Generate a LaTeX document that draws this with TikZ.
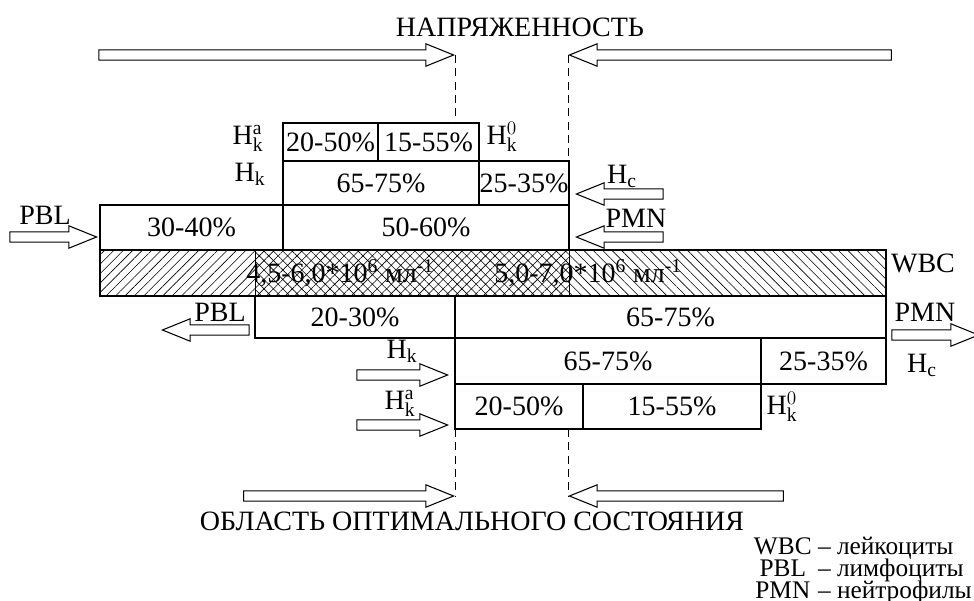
\documentclass[tikz,border=0pt]{standalone}
\usepackage{fontspec}
\setmainfont{Liberation Serif}
\usetikzlibrary{shapes.arrows,patterns.meta}

\tikzset{
  hollow/.style={single arrow, draw, line width=0.8pt, inner xsep=0pt, inner ysep=3.5pt,
    single arrow head extend=4.5pt, single arrow tip angle=44, single arrow head indent=0pt,
    anchor=tip},
  toleft/.style={shape border rotate=180},
  cell/.style={line width=1.1pt},
  lbl/.style={inner sep=0pt},
  guide/.style={line width=0.7pt, dash pattern=on 6pt off 4pt},
}

\begin{document}
\begin{tikzpicture}[x=0.75pt, y=-0.75pt, font=\fontsize{21}{25}\selectfont]
	\useasboundingbox (0,0) rectangle (974,600);
	%titles
	\node (stress) at (520,27) {НАПРЯЖЕННОСТЬ};
	\node (optimum) at (472,521) {ОБЛАСТЬ ОПТИМАЛЬНОГО СОСТОЯНИЯ};
	%WBC bar
	\fill[pattern={Lines[angle=45,distance=5pt,line width=0.45pt]}] (100,250) rectangle (255,296);
	\fill[pattern={Hatch[angle=45,distance=5pt,line width=0.45pt]}] (255,250) rectangle (569,296);
	\fill[pattern={Lines[angle=-45,distance=5pt,line width=0.45pt]}] (569,250) rectangle (886,296);
	\draw[line width=0.6pt] (255,250) -- (255,296) (569,250) -- (569,296);
	\draw[cell] (100,250) rectangle (886,296);
	\node (wbcL) at (340,273) {4,5-6,0*10\textsuperscript{6} мл\textsuperscript{-1}};
	\node (wbcR) at (588,273) {5,0-7,0*10\textsuperscript{6} мл\textsuperscript{-1}};
	\node (wbc) at (923,263) {WBC};
	%boxes
	\foreach \xa/\ya/\xb/\yb/\val [count=\i] in {
		283/123/378/161/20-50,
		378/123/479/161/15-55,
		283/161/479/205/65-75,
		479/161/569/205/25-35,
		100/205/283/250/30-40,
		283/205/569/250/50-60,
		255/296/455/338/20-30,
		455/296/886/338/65-75,
		455/338/761/384/65-75,
		761/338/886/384/25-35,
		455/384/583/429/20-50,
		583/384/761/429/15-55}
	\draw[cell] (\xa,\ya) rectangle (\xb,\yb) node[midway, inner sep=0pt] (box\i) {\val\%};
	%labels
	\node[lbl] (hkaU) at (248,138) {$\mathrm{H}^{\mathrm{a}}_{\mathrm{k}}$};
	\node[lbl] (hkU) at (250,174) {$\mathrm{H}_{\mathrm{k}}$};
	\node[lbl] (hkoU) at (502,137) {$\mathrm{H}^{0}_{\mathrm{k}}$};
	\node[lbl] (hcU) at (622,176) {$\mathrm{H}_{\mathrm{c}}$};
	\node[lbl] (pmnU) at (636,218) {PMN};
	\node[lbl] (pblU) at (45,215) {PBL};
	\node[lbl] (pblD) at (220,312) {PBL};
	\node[lbl] (pmnD) at (925,312) {PMN};
	\node[lbl] (hcD) at (922,365) {$\mathrm{H}_{\mathrm{c}}$};
	\node[lbl] (hkD) at (402,351) {$\mathrm{H}_{\mathrm{k}}$};
	\node[lbl] (hkaD) at (400,403) {$\mathrm{H}^{\mathrm{a}}_{\mathrm{k}}$};
	\node[lbl] (hkoD) at (782,407) {$\mathrm{H}^{0}_{\mathrm{k}}$};
	%arrows
	\node[hollow, minimum height=266pt] (stressL) at (455,55) {};
	\node[hollow, toleft, minimum height=241.5pt] (stressR) at (568,55) {};
	\node[hollow, minimum height=157.5pt] (optL) at (455,496) {};
	\node[hollow, toleft, minimum height=160.5pt] (optR) at (568,496) {};
	\node[hollow, minimum height=65pt] (pblIn) at (98,237) {};
	\node[hollow, toleft, minimum height=65pt] (hcIn) at (575,194) {};
	\node[hollow, toleft, minimum height=65pt] (pmnIn) at (575,237) {};
	\node[hollow, toleft, minimum height=65pt] (pblOut) at (161,330) {};
	\node[hollow, minimum height=65pt] (pmnOut) at (980,335) {};
	\node[hollow, minimum height=68pt] (hkIn) at (449,375) {};
	\node[hollow, minimum height=68pt] (hkaIn) at (449,425) {};
	%dashed borders
	\draw[guide] (stressL.tip) -- (455,123);
	\draw[guide] (stressR.tip) -- (568,161);
	\draw[guide] (455,429) -- (optL.tip);
	\draw[guide] (568,429) -- (optR.tip);
	%legend
	\node[anchor=north east, inner sep=0pt] (legend) at (972,537) {\fontsize{19}{14.6}\selectfont
		\begin{tabular}{@{}c@{ }c@{ }l@{}}
			WBC & -- & лейкоциты\\[-1pt]
			PBL & -- & лимфоциты\\[-1pt]
			PMN & -- & нейтрофилы
		\end{tabular}};
\end{tikzpicture}
\end{document}
